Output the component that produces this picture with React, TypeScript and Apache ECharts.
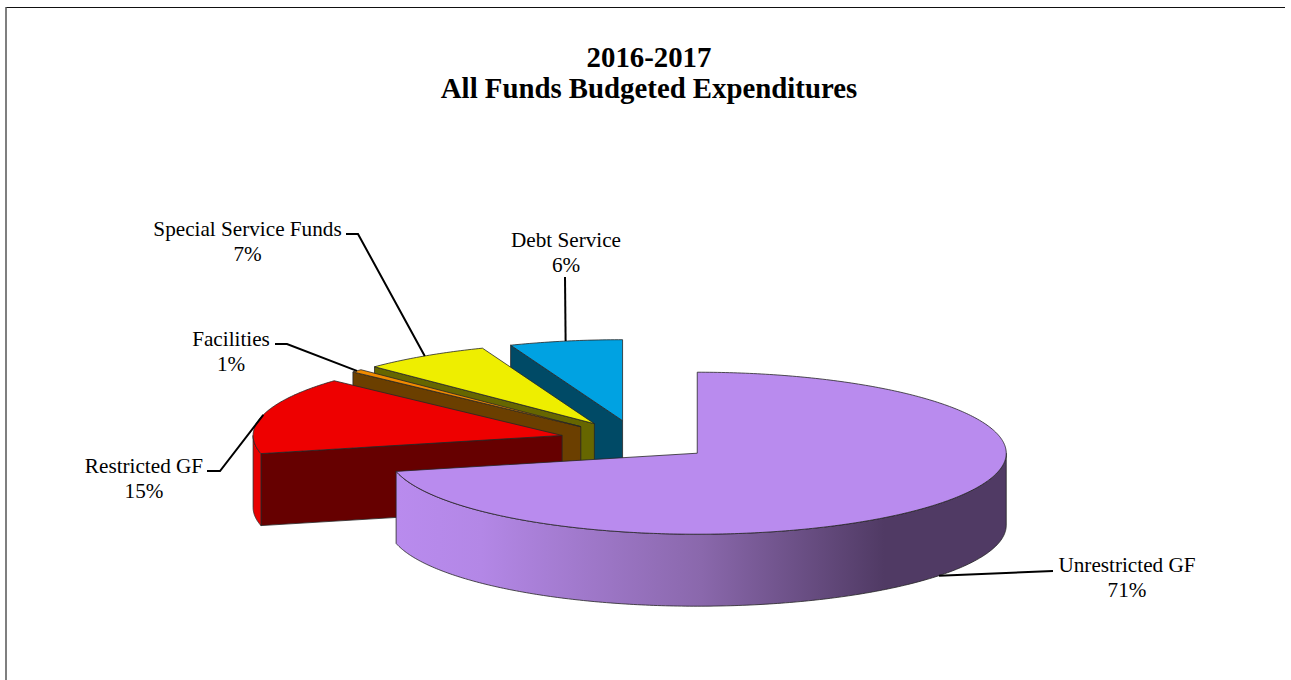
import React, { useEffect, useRef } from "react";
import * as echarts from "echarts";

// Budget shares, clockwise from twelve o'clock.
const categories = ["Unrestricted GF", "Restricted GF", "Facilities", "Special Service Funds", "Debt Service"];
const shares = [71.4, 15.4, 0.6, 6.7, 5.9];
const titleLines = ["2016-2017", "All Funds Budgeted Expenditures"];

const topColors = ["#B98BEE", "#EE0000", "#F18A00", "#EEEE00", "#00A2E2"];
const wallColors = ["#503A64", "#660000", "#6B3F00", "#666600", "#004A66"];
const sideColors = ["gradient", "#E80000", "#E88500", "#E0E000", "#0098D4"];

const FONT = '"Liberation Serif", "Times New Roman", serif';

// Projected pie: ellipse radii, extrusion depth, and how far each slice is pulled out.
const CX = 636.8;
const CY = 440.6;
const RX = 309;
const RY = 81;
const DEPTH = 72;
const EXPLODE = 0.25;

// Where each slice's caption sits and the elbow its leader line passes through.
const captions = [
  { x: 1127, y: 577, from: [1053, 571] },
  { x: 144, y: 478, from: [207, 471], elbow: [220, 471] },
  { x: 231, y: 351, from: [275, 344], elbow: [287, 344] },
  { x: 247.5, y: 241, from: [346, 234], elbow: [358, 234] },
  { x: 566, y: 252, from: [565, 277] },
];

const rad = (deg: number) => (deg * Math.PI) / 180;

const total = shares.reduce((a, b) => a + b, 0);
let running = 0;
const slices = shares.map((value, index) => {
  const start = (running / total) * 360;
  running += value;
  const end = (running / total) * 360;
  const mid = (start + end) / 2;
  return {
    index,
    start,
    end,
    mid,
    ax: CX + EXPLODE * RX * Math.sin(rad(mid)),
    ay: CY - EXPLODE * RY * Math.cos(rad(mid)),
  };
});

// Painted from the back of the pie to the front.
const paintOrder = [4, 3, 2, 1, 0];

function rimPoint(s: any, deg: number, drop = 0) {
  return [s.ax + RX * Math.sin(rad(deg)), s.ay - RY * Math.cos(rad(deg)) + drop];
}

function arcPoints(s: any, from: number, to: number, drop = 0) {
  const steps = Math.max(2, Math.ceil(Math.abs(to - from) / 0.75));
  const pts: number[][] = [];
  for (let k = 0; k <= steps; k++) pts.push(rimPoint(s, from + ((to - from) * k) / steps, drop));
  return pts;
}

function purpleSide() {
  return new echarts.graphic.LinearGradient(0, 0, 1, 0, [
    { offset: 0, color: "#B98BEE" },
    { offset: 0.14, color: "#B387E6" },
    { offset: 0.5, color: "#8A68AC" },
    { offset: 0.8, color: "#503A64" },
    { offset: 1, color: "#503A64" },
  ]);
}

function renderSlice(params: any) {
  const s = slices[paintOrder[params.dataIndex]];
  const i = s.index;
  const edge = { stroke: "#262626", lineWidth: 0.8, lineJoin: "round" };
  const apex = [s.ax, s.ay];
  const children: any[] = [];

  const wall = (deg: number) => {
    const rim = rimPoint(s, deg);
    children.push({
      type: "polygon",
      silent: true,
      shape: { points: [apex, rim, [rim[0], rim[1] + DEPTH], [apex[0], apex[1] + DEPTH]] },
      style: { fill: wallColors[i], ...edge },
    });
  };
  if (Math.sin(rad(s.start)) < -1e-6) wall(s.start);
  if (Math.sin(rad(s.end)) > 1e-6) wall(s.end);

  // Outer skin, only where it turns toward the viewer.
  const a = Math.max(s.start, 90);
  const b = Math.min(s.end, 270);
  if (b > a) {
    const upper = arcPoints(s, a, b);
    const lower = arcPoints(s, b, a, DEPTH);
    children.push({
      type: "polygon",
      silent: true,
      shape: { points: [...upper, ...lower] },
      style: { fill: sideColors[i] === "gradient" ? purpleSide() : sideColors[i], ...edge },
    });
  }

  children.push({
    type: "polygon",
    silent: true,
    shape: { points: [apex, ...arcPoints(s, s.start, s.end)] },
    style: { fill: topColors[i], ...edge },
  });

  // Leader line ends on the rim at the slice's middle angle.
  const front = Math.cos(rad(s.mid)) < 0;
  const target = rimPoint(s, s.mid, front ? DEPTH : 0);
  const cap: any = captions[i];
  const leader = cap.elbow ? [cap.from, cap.elbow, target] : [cap.from, target];
  children.push({
    type: "polyline",
    silent: true,
    shape: { points: leader },
    style: { fill: "none", stroke: "#000", lineWidth: 2 },
  });
  children.push({
    type: "text",
    silent: true,
    style: {
      x: cap.x,
      y: cap.y,
      text: `${categories[i]}\n${Math.round(shares[i])}%`,
      align: "center",
      verticalAlign: "middle",
      fontFamily: FONT,
      fontSize: 21.2,
      lineHeight: 25,
      fill: "#000",
    },
  });

  return { type: "group", children };
}

export default function App() {
  const ref = useRef<HTMLDivElement>(null);
  useEffect(() => {
    document.body.style.margin = "0";
    const chart = echarts.init(ref.current!, undefined, { renderer: "svg" });
    chart.setOption({
      animation: false,
      backgroundColor: "#fff",
      title: {
        text: titleLines.join("\n"),
        left: 644,
        top: 36,
        textAlign: "center",
        textStyle: { fontFamily: FONT, fontSize: 28.8, fontWeight: "bold", color: "#000", lineHeight: 31 },
      },
      graphic: [
        { type: "line", silent: true, shape: { x1: 6, y1: 7.5, x2: 1285, y2: 7.5 }, style: { stroke: "#111", lineWidth: 1 } },
        { type: "line", silent: true, shape: { x1: 6, y1: 7, x2: 6, y2: 680 }, style: { stroke: "#555", lineWidth: 1.5 } },
      ],
      series: [
        {
          type: "custom",
          coordinateSystem: "none",
          silent: true,
          data: paintOrder.map((i) => shares[i]),
          renderItem: renderSlice,
        },
      ],
    });
    return () => chart.dispose();
  }, []);
  return <div ref={ref} style={{ width: 1291, height: 680, overflow: "hidden" }} />;
}
